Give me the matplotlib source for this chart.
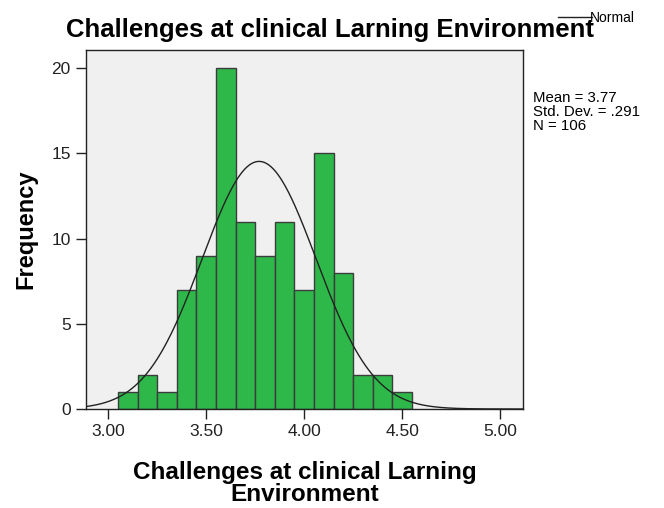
import numpy as np
import matplotlib
matplotlib.use("Agg")
import matplotlib.pyplot as plt

plt.rcParams['font.family'] = ['Liberation Sans', 'DejaVu Sans']

# =========================
# Datos
# =========================
bin_left = [3.05, 3.15, 3.25, 3.35, 3.45, 3.55, 3.65, 3.75, 3.85, 3.95, 4.05, 4.15, 4.25, 4.35, 4.45]
counts = [1, 2, 1, 7, 9, 20, 11, 9, 11, 7, 15, 8, 2, 2, 1]
bin_width = 0.1
mean = 3.77
std = 0.291
n = 106
xticks = [3.00, 3.50, 4.00, 4.50, 5.00]
yticks = [0, 5, 10, 15, 20]

# =========================
# Figura
# =========================
fig = plt.figure(figsize=(6.64, 5.08), dpi=100)
ax = fig.add_axes([0.1295, 0.1949, 0.658, 0.7067])
ax.set_facecolor('#f0f0f0')

ax.bar(bin_left, counts, width=bin_width, align='edge',
       color='#2eb84a', edgecolor='#3c3c3c', linewidth=1.0, zorder=2)

# curva normal
xs = np.linspace(2.886, 5.117, 400)
ys = n * bin_width / (std * np.sqrt(2 * np.pi)) * np.exp(-0.5 * ((xs - mean) / std) ** 2)
ax.plot(xs, ys, color='#222222', linewidth=1.0, zorder=3)

ax.set_xlim(2.886, 5.117)
ax.set_ylim(0, 21.07)
ax.set_xticks(xticks)
ax.set_xticklabels([f"{t:.2f}" for t in xticks])
ax.set_yticks(yticks)
ax.tick_params(direction='out', length=7, width=1, labelsize=12.5,
               colors='#222222', pad=4)
for s in ax.spines.values():
    s.set_color('#222222')
    s.set_linewidth(1.0)

ax.set_ylabel("Frequency", fontsize=17, fontweight='bold', labelpad=10)
ax.set_xlabel("Challenges at clinical Larning\nEnvironment", fontsize=17.5,
              fontweight='bold', linespacing=0.9, labelpad=16)

fig.text(330 / 664, 1 - 30 / 508, "Challenges at clinical Larning Environment",
         fontsize=18.5, fontweight='bold', ha='center', va='center')

# leyenda "Normal"
fig.add_artist(plt.Line2D([558 / 664, 592 / 664], [1 - 17 / 508, 1 - 17 / 508],
                          color='#222222', linewidth=1.0))
fig.text(590 / 664, 1 - 18 / 508, "Normal", fontsize=10, ha='left', va='center')

fig.text(533 / 664, 1 - 112 / 508, "Mean = 3.77\nStd. Dev. = .291\nN = 106",
         fontsize=10.8, ha='left', va='center', linespacing=1.0)

plt.savefig("out.png", dpi=100)
